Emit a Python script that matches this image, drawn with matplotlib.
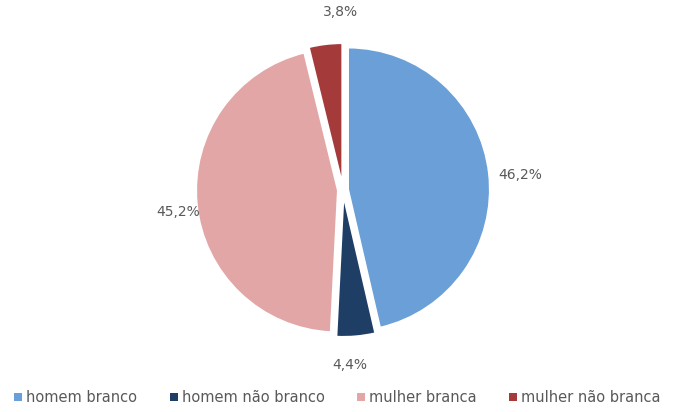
import matplotlib.pyplot as plt
from matplotlib.patches import Patch

categorias = ["homem branco", "homem não branco", "mulher branca", "mulher não branca"]
valores = [46.2, 4.4, 45.2, 3.8]
cores = ["#6A9FD8", "#1F3E66", "#E3A6A6", "#A53A3B"]

rotulos = [f"{v:.1f}%".replace(".", ",") for v in valores]

fig = plt.figure(figsize=(6.75, 4.12), dpi=100)
ax = fig.add_axes([0, 0, 1, 1])

wedges, texts = ax.pie(
    valores, labels=rotulos, colors=cores, startangle=90, counterclock=False,
    explode=[5] * 4, center=(343, 222), radius=142, labeldistance=1.15,
    wedgeprops=dict(edgecolor="white", linewidth=1.5),
    textprops=dict(color="#595959", fontsize=10),
)
# label placement like the original (Excel style)
pos_rotulos = [(520, 237), (350, 47), (178, 200), (340, 400)]
for t, p in zip(texts, pos_rotulos):
    t.set_position(p)
    t.set_ha("center")
    t.set_va("center")

ax.set_xlim(0, 675)
ax.set_ylim(0, 412)
ax.set_aspect("equal")
ax.axis("off")

handles = [Patch(facecolor=c, label=l) for c, l in zip(cores, categorias)]
fig.legend(handles=handles, loc="lower center", ncol=4, frameon=False,
           fontsize=10.5, handlelength=0.55, handleheight=0.55, handletextpad=0.3,
           columnspacing=2.2, bbox_to_anchor=(0.5, -0.015), labelcolor="#595959")

fig.savefig("out.png", dpi=100, facecolor="white")
